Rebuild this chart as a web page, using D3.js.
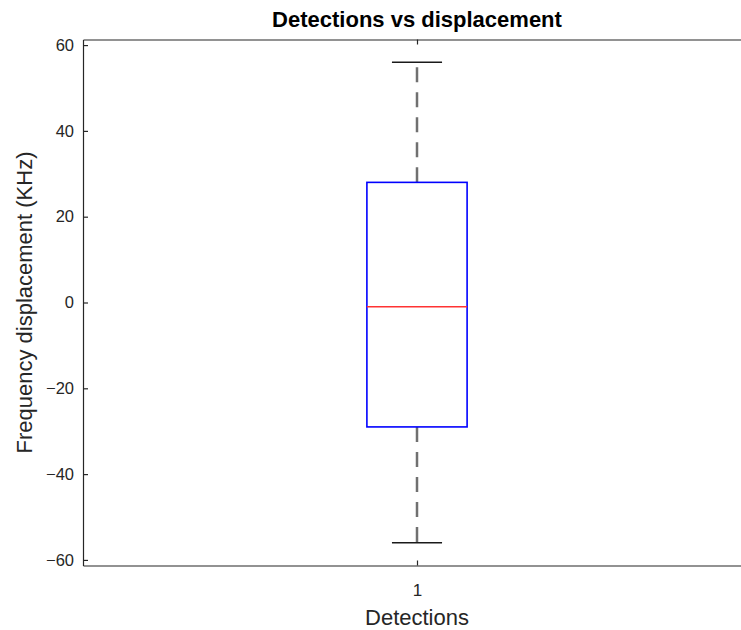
<!DOCTYPE html>
<html>
<head>
<meta charset="utf-8">
<script src="https://cdn.jsdelivr.net/npm/d3@7"></script>
<style>
  body { margin: 0; background: #fff; }
  svg { display: block; font-family: "Liberation Sans", Arial, Helvetica, sans-serif; }
  .tick text { fill: #262626; }
</style>
</head>
<body>
<div id="chart"></div>
<script>
// box summary (KHz)
var groups = [1];
var groupLabels = ["1"];
var whiskerLow = [-56];
var quartile1 = [-29];
var medians = [-1];
var quartile3 = [28];
var whiskerHigh = [56];
var yTicks = [-60, -40, -20, 0, 20, 40, 60];

var W = 741, H = 630;
var margin = { top: 39.5, right: -10, bottom: 64.5, left: 83 };
var width = W - margin.left - margin.right,
    height = H - margin.top - margin.bottom;

var svg = d3.select("#chart")
    .append("svg")
    .attr("width", W)
    .attr("height", H);

var g = svg.append("g")
    .attr("transform", "translate(" + margin.left + "," + margin.top + ")");

var x = d3.scaleLinear()
    .domain([0.5, 1.5])
    .range([0, width]);

var y = d3.scaleLinear()
    .domain([-61.3, 61.3])
    .range([height, 0]);

var ink = "#262626";

// axes, ticks pointing inward like matlab
var yAxis = d3.axisLeft(y)
    .tickValues(yTicks)
    .tickSizeInner(-5)
    .tickSizeOuter(0)
    .tickPadding(9);

var yg = g.append("g").attr("class", "yaxis").call(yAxis);
yg.selectAll("text").style("font-size", "16.5px");

var xAxis = d3.axisBottom(x)
    .tickValues(groups)
    .tickFormat(function(d, i) { return groupLabels[i]; })
    .tickSizeInner(-5)
    .tickSizeOuter(0)
    .tickPadding(18);

var xg = g.append("g")
    .attr("class", "xaxis")
    .attr("transform", "translate(0," + height + ")")
    .call(xAxis);
xg.selectAll("text").style("font-size", "17px");

// top border with mirrored tick
var xTop = d3.axisTop(x)
    .tickValues(groups)
    .tickFormat("")
    .tickSizeInner(-5)
    .tickSizeOuter(0);
g.append("g").attr("class", "xtop").call(xTop);

svg.selectAll(".domain, .tick line").attr("stroke", ink).attr("stroke-width", 1.2);

// boxes
var boxW = 0.15;
groups.forEach(function(grp, i) {
    var cx = x(grp);
    var half = (x(grp + boxW / 2) - x(grp - boxW / 2)) / 2;

    // whiskers, dashed from box edge outwards
    g.append("line")
        .attr("x1", cx).attr("x2", cx)
        .attr("y1", y(quartile3[i])).attr("y2", y(whiskerHigh[i]))
        .attr("stroke", "#707070").attr("stroke-width", 2.5)
        .attr("stroke-dasharray", "15,10");
    g.append("line")
        .attr("x1", cx).attr("x2", cx)
        .attr("y1", y(quartile1[i])).attr("y2", y(whiskerLow[i]))
        .attr("stroke", "#707070").attr("stroke-width", 2.5)
        .attr("stroke-dasharray", "15,10");

    // caps
    [whiskerHigh[i], whiskerLow[i]].forEach(function(v) {
        g.append("line")
            .attr("x1", cx - half / 2).attr("x2", cx + half / 2)
            .attr("y1", y(v)).attr("y2", y(v))
            .attr("stroke", "#1a1a1a").attr("stroke-width", 1.6);
    });

    g.append("rect")
        .attr("x", cx - half)
        .attr("y", y(quartile3[i]))
        .attr("width", half * 2)
        .attr("height", y(quartile1[i]) - y(quartile3[i]))
        .attr("fill", "none")
        .attr("stroke", "#0000ff")
        .attr("stroke-width", 1.6);

    g.append("line")
        .attr("x1", cx - half).attr("x2", cx + half)
        .attr("y1", y(medians[i])).attr("y2", y(medians[i]))
        .attr("stroke", "#ff3333").attr("stroke-width", 1.6);
});

// titles
svg.append("text")
    .attr("x", x(1) + margin.left)
    .attr("y", 27)
    .attr("text-anchor", "middle")
    .style("font-size", "22px")
    .style("font-weight", "bold")
    .attr("fill", "#000")
    .text("Detections vs displacement");

svg.append("text")
    .attr("x", x(1) + margin.left)
    .attr("y", 625)
    .attr("text-anchor", "middle")
    .style("font-size", "22px")
    .attr("fill", ink)
    .text("Detections");

svg.append("text")
    .attr("transform", "translate(32," + (margin.top + height / 2) + ") rotate(-90)")
    .attr("text-anchor", "middle")
    .style("font-size", "22px")
    .attr("fill", ink)
    .text("Frequency displacement (KHz)");
</script>
</body>
</html>
